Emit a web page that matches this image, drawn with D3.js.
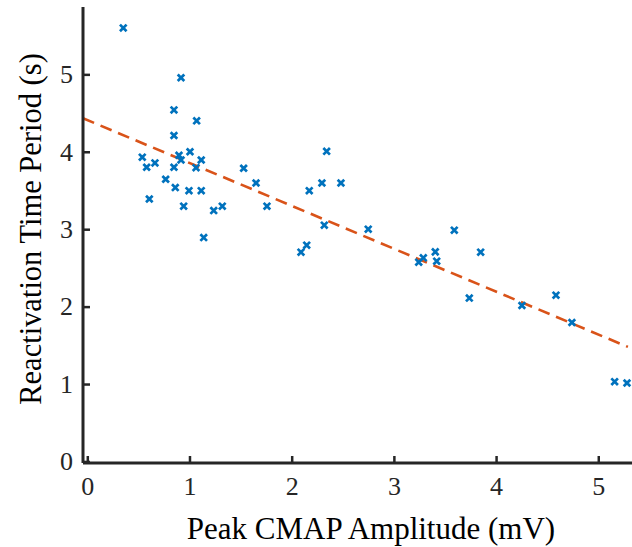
<!DOCTYPE html>
<html><head><meta charset="utf-8">
<script src="https://cdn.jsdelivr.net/npm/d3@7/dist/d3.min.js"></script>
<style>body{margin:0;background:#fff}svg{display:block}</style>
</head><body>
<svg id="c" width="632" height="547"></svg>
<script>
const amplitude = [0.352,0.917,0.848,0.848,1.070,0.538,0.581,0.662,0.607,0.767,0.848,0.861,0.897,0.917,1.005,1.064,1.115,0.995,1.115,0.943,1.139,1.237,1.321,1.530,1.651,1.758,2.091,2.147,2.172,2.296,2.342,2.482,2.319,2.749,3.243,3.288,3.405,3.419,3.591,3.849,3.738,4.253,4.586,4.742,5.160,5.281];
const reactivation = [5.60,4.956,4.54,4.21,4.40,3.93,3.80,3.856,3.39,3.645,3.80,3.537,3.955,3.894,4.00,3.795,3.894,3.498,3.498,3.297,2.892,3.24,3.297,3.787,3.597,3.297,2.703,2.794,3.498,3.597,4.006,3.597,3.052,3.00,2.574,2.63,2.707,2.587,2.987,2.703,2.11,2.014,2.148,1.795,1.03,1.013];
const fitLine = {intercept: 4.41, slope: -0.554, xStart: -0.042, xEnd: 5.29};
const xTicks = [0,1,2,3,4,5];
const yTicks = [0,1,2,3,4,5];

const svg = d3.select("#c");
const x = d3.scaleLinear().domain([-0.042, 5.33]).range([83, 632]);
const y = d3.scaleLinear().domain([-0.02, 5.87]).range([463, 7]);
const font = "'Liberation Serif', 'Times New Roman', serif";
const axisCol = "#262626";

// fit line
svg.append("line")
  .attr("x1", x(fitLine.xStart)).attr("y1", y(fitLine.intercept + fitLine.slope*fitLine.xStart))
  .attr("x2", x(fitLine.xEnd)).attr("y2", y(fitLine.intercept + fitLine.slope*fitLine.xEnd))
  .attr("stroke", "#D95319").attr("stroke-width", 2.6).attr("stroke-dasharray", "12,7");

// markers
const s = 3.3;
const pts = svg.append("g");
amplitude.forEach((a,i)=>{
  const cx = x(a), cy = y(reactivation[i]);
  pts.append("path")
    .attr("d", `M${cx-s},${cy-s}L${cx+s},${cy+s}M${cx-s},${cy+s}L${cx+s},${cy-s}`)
    .attr("stroke", "#0072BD").attr("stroke-width", 2.7).attr("fill","none");
});

// axes
const xAxis = d3.axisBottom(x).tickValues(xTicks).tickSize(-7).tickPadding(14).tickFormat(d3.format("d"));
const gx = svg.append("g").attr("transform", `translate(0,${y.range()[0]})`).call(xAxis);
const yAxis = d3.axisLeft(y).tickValues(yTicks).tickSize(-7).tickPadding(10).tickFormat(d3.format("d"));
const gy = svg.append("g").attr("transform", `translate(${x.range()[0]},0)`).call(yAxis);
[gx, gy].forEach(g=>{
  g.select(".domain").attr("stroke", axisCol).attr("stroke-width", 3);
  g.selectAll(".tick line").attr("stroke", axisCol).attr("stroke-width", 2.5);
  g.selectAll(".tick text").attr("fill", axisCol).style("font-family", font).style("font-size", "26px");
});
gx.select(".domain").attr("d", `M${x.range()[0]},0H${x.range()[1]}`);
gy.select(".domain").attr("d", `M0,${y.range()[0]}V${y.range()[1]}`);

svg.append("text").attr("x", 371).attr("y", 539).attr("text-anchor","middle")
  .style("font-family", font).style("font-size","31px").attr("fill","#000")
  .text("Peak CMAP Amplitude (mV)");
svg.append("text").attr("transform","translate(41,229) rotate(-90)").attr("text-anchor","middle")
  .style("font-family", font).style("font-size","30.5px").attr("fill","#000")
  .text("Reactivation Time Period (s)");
</script>
</body></html>
